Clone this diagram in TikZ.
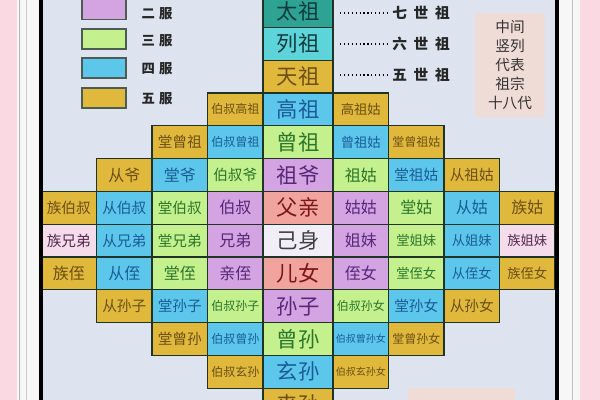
\documentclass[tikz,border=0pt]{standalone}
\usepackage{fontspec}
\newfontfamily\cjk{Noto Sans CJK SC}
\definecolor{bgpaper}{HTML}{DDE4EF}
\definecolor{sidepink}{HTML}{FAD9E3}
\definecolor{sidewhite}{HTML}{F7F7F8}
\definecolor{edge}{HTML}{1F3326}
\definecolor{cgold}{HTML}{E0B83C}
\definecolor{tgold}{HTML}{6B5014}
\definecolor{csky}{HTML}{5CC7EA}
\definecolor{tsky}{HTML}{1B5C98}
\definecolor{clime}{HTML}{C4F08E}
\definecolor{tlime}{HTML}{2B762B}
\definecolor{clilac}{HTML}{D3A3E2}
\definecolor{tlilac}{HTML}{55287A}
\definecolor{csalmon}{HTML}{F1A39D}
\definecolor{tsalmon}{HTML}{7A1616}
\definecolor{cblush}{HTML}{F4DCEB}
\definecolor{tblush}{HTML}{55284F}
\definecolor{cself}{HTML}{F1EEF8}
\definecolor{ctealdk}{HTML}{2EA394}
\definecolor{caqua}{HTML}{5DD3DA}
\definecolor{tdeep}{HTML}{0E3C3A}
\definecolor{cnote}{HTML}{F0DCD6}
\tikzset{
  cell/.style={draw=edge, line width=0.9pt, minimum width=41.6pt, minimum height=24.6pt, inner sep=0pt},
  mid/.style={cell, minimum width=52.5pt, font=\cjk\fontsize{16}{16}\selectfont},
  ftwo/.style={font=\cjk\fontsize{12}{12}\selectfont},
  fthree/.style={font=\cjk\fontsize{11}{11}\selectfont},
  fthrees/.style={font=\cjk\fontsize{10}{10}\selectfont},
  ffour/.style={font=\cjk\fontsize{9}{9}\selectfont},
  ffive/.style={font=\cjk\fontsize{7.5}{7.5}\selectfont},
  gold/.style={fill=cgold, text=tgold},
  sky/.style={fill=csky, text=tsky},
  lime/.style={fill=clime, text=tlime},
  lilac/.style={fill=clilac, text=tlilac},
  salmon/.style={fill=csalmon, text=tsalmon},
  blush/.style={fill=cblush, text=tblush},
  keybox/.style={draw=edge!80, line width=0.9pt, minimum width=33pt, minimum height=15pt, inner sep=0pt},
  keytext/.style={font=\cjk\bfseries\fontsize{10}{10}\selectfont, text=black!85},
  gentext/.style={font=\cjk\bfseries\fontsize{11}{11}\selectfont, text=black!85}
}
\begin{document}
\begin{tikzpicture}[x=0.75pt,y=-0.75pt]
  \useasboundingbox (0,0) rectangle (600,400);
  \clip (0,0) rectangle (600,400);
  \fill[bgpaper] (0,0) rectangle (600,400);
  \fill[sidepink] (0,0) rectangle (17,400);
  \fill[sidewhite] (17,0) rectangle (40,400);
  \fill[sidewhite] (558,0) rectangle (580,400);
  \fill[sidepink] (580,0) rectangle (600,400);
  \draw[black!30] (19,0) -- (19,400);
  \draw[black!20] (26,0) -- (26,400);
  \draw[black!25] (572,0) -- (572,400);

  \node[keybox, fill=clilac] (keytwo) at (104,9.5) {};
  \node[keybox, fill=clime] (keythree) at (104,39) {};
  \node[keybox, fill=csky] (keyfour) at (104,68) {};
  \node[keybox, fill=cgold] (keyfive) at (104,98) {};
  \node[keytext] (keytwol) at (157,14) {二\hspace{3pt}服};
  \node[keytext] (keythreel) at (157,41) {三\hspace{3pt}服};
  \node[keytext] (keyfourl) at (157,69) {四\hspace{3pt}服};
  \node[keytext] (keyfivel) at (157,99) {五\hspace{3pt}服};

  \node[mid, fill=ctealdk, text=tdeep] (taizu) at (298,11) {太祖};
  \node[mid, fill=caqua, text=tdeep] (liezu) at (298,43.8) {列祖};
  \node[mid, gold] (tianzu) at (298,76.6) {天祖};
  \node[mid, sky] (gaozu) at (298,109.4) {高祖};
  \node[mid, lime] (zengzu) at (298,142.2) {曾祖};
  \node[mid, lilac] (zuye) at (298,175) {祖爷};
  \node[mid, salmon] (fuqin) at (298,207.8) {父亲};
  \node[mid, fill=cself, text=black!75] (jishen) at (298,240.6) {己身};
  \node[mid, salmon] (ernv) at (298,273.4) {儿女};
  \node[mid, lilac] (sunzi) at (298,306.2) {孙子};
  \node[mid, lime] (zengsun) at (298,339) {曾孙};
  \node[mid, sky] (xuansun) at (298,371.8) {玄孙};
  \node[mid, gold] (laisun) at (298,404.6) {来孙};

  \node[cell, gold, ffour] (bsgaozu) at (235.25,109.4) {伯叔高祖};
  \node[cell, gold, fthrees] (gaozugu) at (360.75,109.4) {高祖姑};

  \node[cell, gold, fthree] (tangzengzu) at (179.75,142.2) {堂曾祖};
  \node[cell, sky, ffour] (bszengzu) at (235.25,142.2) {伯叔曾祖};
  \node[cell, sky, fthrees] (zengzugu) at (360.75,142.2) {曾祖姑};
  \node[cell, gold, ffour] (tangzengzugu) at (416.25,142.2) {堂曾祖姑};

  \node[cell, gold, ftwo] (congye) at (124.25,175) {从爷};
  \node[cell, sky, ftwo] (tangye) at (179.75,175) {堂爷};
  \node[cell, lime, fthree] (bsye) at (235.25,175) {伯叔爷};
  \node[cell, lime, ftwo] (zugu) at (360.75,175) {祖姑};
  \node[cell, sky, fthree] (tangzugu) at (416.25,175) {堂祖姑};
  \node[cell, gold, fthree] (congzugu) at (471.75,175) {从祖姑};

  \node[cell, gold, fthree] (zubs) at (68.75,207.8) {族伯叔};
  \node[cell, sky, fthree] (congbs) at (124.25,207.8) {从伯叔};
  \node[cell, lime, fthree] (tangbs) at (179.75,207.8) {堂伯叔};
  \node[cell, lilac, ftwo] (boshu) at (235.25,207.8) {伯叔};
  \node[cell, lilac, ftwo] (gugu) at (360.75,207.8) {姑姑};
  \node[cell, lime, ftwo] (tanggu) at (416.25,207.8) {堂姑};
  \node[cell, sky, ftwo] (conggu) at (471.75,207.8) {从姑};
  \node[cell, gold, ftwo] (zugux) at (527.25,207.8) {族姑};

  \node[cell, blush, fthree] (zuxd) at (68.75,240.6) {族兄弟};
  \node[cell, sky, fthree] (congxd) at (124.25,240.6) {从兄弟};
  \node[cell, lime, fthree] (tangxd) at (179.75,240.6) {堂兄弟};
  \node[cell, lilac, ftwo] (xiongdi) at (235.25,240.6) {兄弟};
  \node[cell, lilac, ftwo] (jiemei) at (360.75,240.6) {姐妹};
  \node[cell, lime, fthrees] (tangjm) at (416.25,240.6) {堂姐妹};
  \node[cell, sky, fthrees] (congjm) at (471.75,240.6) {从姐妹};
  \node[cell, blush, fthrees] (zujm) at (527.25,240.6) {族姐妹};

  \node[cell, gold, ftwo] (zuzhi) at (68.75,273.4) {族侄};
  \node[cell, sky, ftwo] (congzhi) at (124.25,273.4) {从侄};
  \node[cell, lime, ftwo] (tangzhi) at (179.75,273.4) {堂侄};
  \node[cell, lilac, ftwo] (qinzhi) at (235.25,273.4) {亲侄};
  \node[cell, lilac, ftwo] (zhinv) at (360.75,273.4) {侄女};
  \node[cell, lime, fthrees] (tangzhinv) at (416.25,273.4) {堂侄女};
  \node[cell, sky, fthrees] (congzhinv) at (471.75,273.4) {从侄女};
  \node[cell, gold, fthrees] (zuzhinv) at (527.25,273.4) {族侄女};

  \node[cell, gold, fthree] (congsz) at (124.25,306.2) {从孙子};
  \node[cell, sky, fthree] (tangsz) at (179.75,306.2) {堂孙子};
  \node[cell, lime, ffour] (bssz) at (235.25,306.2) {伯叔孙子};
  \node[cell, lime, ffour] (bssn) at (360.75,306.2) {伯叔孙女};
  \node[cell, sky, fthree] (tangsn) at (416.25,306.2) {堂孙女};
  \node[cell, gold, fthree] (congsn) at (471.75,306.2) {从孙女};

  \node[cell, gold, fthree] (tangzs) at (179.75,339) {堂曾孙};
  \node[cell, sky, ffour] (bszs) at (235.25,339) {伯叔曾孙};
  \node[cell, sky, ffive] (bszsn) at (360.75,339) {伯叔曾孙女};
  \node[cell, gold, ffour] (tangzsn) at (416.25,339) {堂曾孙女};

  \node[cell, gold, ffour] (bsxs) at (235.25,371.8) {伯叔玄孙};
  \node[cell, gold, ffive] (bsxsn) at (360.75,371.8) {伯叔玄孙女};

  \draw[black, line width=2.3pt] (41,0) -- (41,400);
  \draw[black, line width=2.3pt] (557,0) -- (557,400);

  \node[gentext] (qishi) at (421,13) {七\hspace{5pt}世\hspace{5pt}祖};
  \node[gentext] (liushi) at (421,44) {六\hspace{5pt}世\hspace{5pt}祖};
  \node[gentext] (wushi) at (421,75) {五\hspace{5pt}世\hspace{5pt}祖};
  \draw[dotted, line width=0.9pt, shorten <=5pt] (qishi.west -| taizu.east) -- (qishi.west);
  \draw[dotted, line width=0.9pt, shorten <=5pt] (liushi.west -| liezu.east) -- (liushi.west);
  \draw[dotted, line width=0.9pt, shorten <=5pt] (wushi.west -| tianzu.east) -- (wushi.west);

  \node[fill=cnote, minimum width=52.5pt, minimum height=78pt, align=center, inner sep=0pt,
        font=\cjk\fontsize{11}{14.3}\selectfont, text=black!80] (note) at (510,65)
        {中间\\竖列\\代表\\祖宗\\十八代};
  \fill[cnote] (408,388) rectangle (515,400);
\end{tikzpicture}
\end{document}
